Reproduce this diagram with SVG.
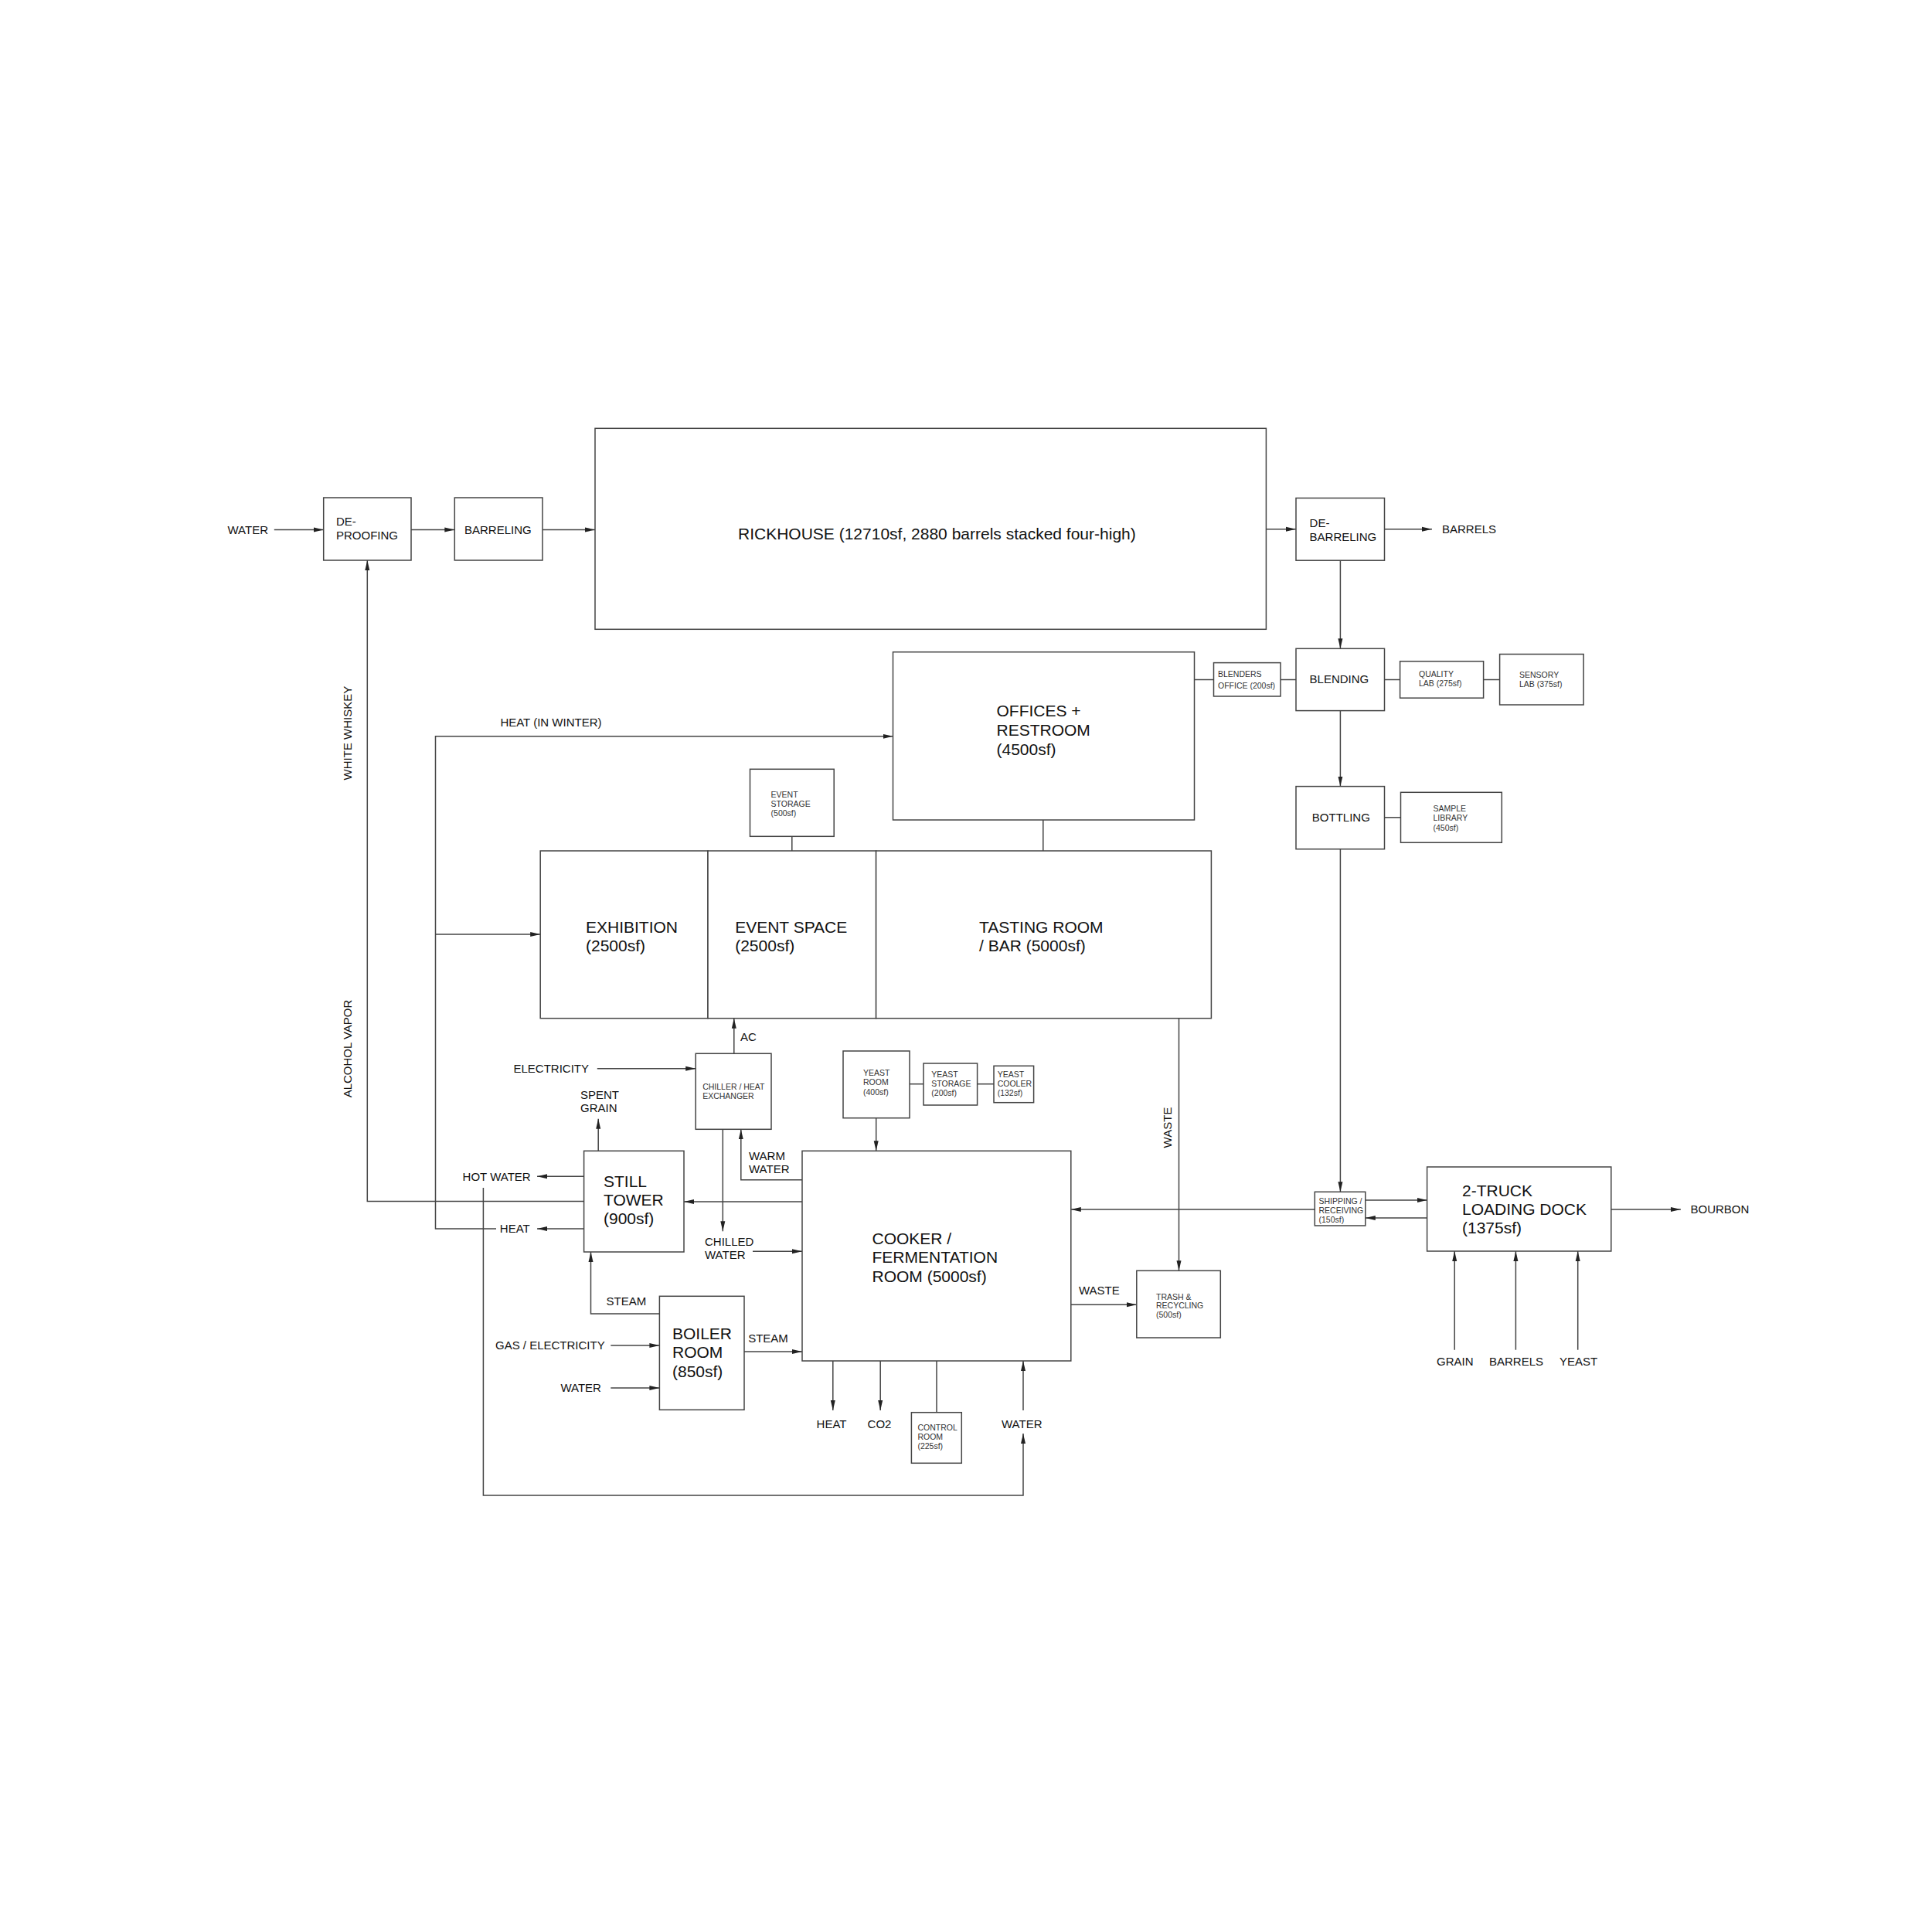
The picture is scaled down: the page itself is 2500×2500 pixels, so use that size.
<svg xmlns="http://www.w3.org/2000/svg" width="2500" height="2500" viewBox="0 0 2500 2500">
<style>
  .box{fill:#fff;stroke:#444;stroke-width:1.5}
  .ln{fill:none;stroke:#444;stroke-width:1.5}
  .a{fill:none;stroke:#444;stroke-width:1.5;marker-end:url(#ah)}
  .t{font-family:"Liberation Sans",Arial,sans-serif;font-size:15px;fill:#111}
  .L{font-family:"Liberation Sans",Arial,sans-serif;font-size:21px;fill:#111}
  .s{font-family:"Liberation Sans",Arial,sans-serif;font-size:10.5px;fill:#333}
</style>
<defs>
  <marker id="ah" markerUnits="userSpaceOnUse" markerWidth="14" markerHeight="8" refX="13" refY="4" orient="auto">
    <path d="M0,1 L13,4 L0,7 z" fill="#222"/>
  </marker>
</defs>
<rect width="2500" height="2500" fill="#fff"/>

<g id="connectors">
  <path class="a" d="M354.8,685.5 H418.7"/>
  <path class="a" d="M532,685.5 H588.3"/>
  <path class="a" d="M702,685.5 H770"/>
  <path class="a" d="M1638.4,684.7 H1677"/>
  <path class="a" d="M1791.5,684.7 H1853"/>
  <path class="a" d="M1734.4,725.2 V839.3"/>
  <path class="a" d="M1734.4,919.6 V1017.6"/>
  <path class="a" d="M1734.4,1098.7 V1542.3"/>
  <path class="ln" d="M1657,879.5 H1677"/>
  <path class="ln" d="M1545.5,879.5 H1570.5"/>
  <path class="ln" d="M1791.5,879.5 H1811.6"/>
  <path class="ln" d="M1919.6,879.5 H1940.6"/>
  <path class="ln" d="M1791.5,1057.8 H1812.5"/>
  <path class="ln" d="M1349.8,1061 V1101"/>
  <path class="ln" d="M1024.8,1082.3 V1101"/>
  <path class="a" d="M642,1590 H563.5 V952.8 H1155.5"/>
  <path class="a" d="M563.5,1209 H699.2"/>
  <path class="a" d="M755.6,1590 H695"/>
  <path class="a" d="M755.6,1522.3 H695"/>
  <path class="a" d="M625.4,1537 V1935 H1324 V1855"/>
  <path class="a" d="M1324,1825 V1761"/>
  <path class="a" d="M755.6,1554.6 H475.3 V725"/>
  <path class="a" d="M1038,1555 H885"/>
  <path class="a" d="M774.2,1489.3 V1447.7"/>
  <path class="a" d="M949.8,1363.3 V1317.7"/>
  <path class="a" d="M772.8,1382.7 H900.2"/>
  <path class="a" d="M1038,1526.7 H958.8 V1461.3"/>
  <path class="a" d="M935.3,1461.3 V1593.3"/>
  <path class="a" d="M974,1619.3 H1038"/>
  <path class="a" d="M853.4,1700 H764.5 V1620"/>
  <path class="a" d="M963,1749 H1038"/>
  <path class="a" d="M790.3,1741 H853.4"/>
  <path class="a" d="M790.3,1796 H853.4"/>
  <path class="a" d="M1133.7,1446.7 V1489.3"/>
  <path class="ln" d="M1177,1402.7 H1195"/>
  <path class="ln" d="M1264.6,1402.7 H1286"/>
  <path class="a" d="M1077.8,1761 V1825"/>
  <path class="a" d="M1139.2,1761 V1825"/>
  <path class="ln" d="M1212,1761 V1827.7"/>
  <path class="a" d="M1525.5,1317.7 V1644.3"/>
  <path class="a" d="M1385.8,1688.3 H1470.8"/>
  <path class="a" d="M1701.3,1565 H1385.8"/>
  <path class="a" d="M1766.8,1553 H1846.6"/>
  <path class="a" d="M1846.6,1576 H1766.8"/>
  <path class="a" d="M2084.8,1565 H2174.9"/>
  <path class="a" d="M1882.2,1746.7 V1619"/>
  <path class="a" d="M1961.4,1746.7 V1619"/>
  <path class="a" d="M2041.7,1746.7 V1619"/>
</g>

<g id="labels">
  <text class="t" x="294.5" y="691">WATER</text>
  <text class="t" x="1866" y="690">BARRELS</text>
  <text class="t" x="647.4" y="940">HEAT (IN WINTER)</text>
  <text class="t" x="958" y="1347">AC</text>
  <text class="t" x="664.5" y="1388">ELECTRICITY</text>
  <text class="t" x="751"><tspan x="751" y="1422">SPENT</tspan><tspan x="751" y="1439">GRAIN</tspan></text>
  <text class="t"><tspan x="969" y="1500.5">WARM</tspan><tspan x="969" y="1518">WATER</tspan></text>
  <text class="t" x="598.6" y="1528">HOT WATER</text>
  <text class="t" x="646.8" y="1595.4">HEAT</text>
  <text class="t"><tspan x="912" y="1612">CHILLED</tspan><tspan x="912" y="1629.4">WATER</tspan></text>
  <text class="t" x="784.5" y="1688.7">STEAM</text>
  <text class="t" x="968.2" y="1737">STEAM</text>
  <text class="t" x="641" y="1746.4">GAS / ELECTRICITY</text>
  <text class="t" x="725.4" y="1801.4">WATER</text>
  <text class="t" x="1056.6" y="1847.7">HEAT</text>
  <text class="t" x="1122.6" y="1847.7">CO2</text>
  <text class="t" x="1296" y="1847.7">WATER</text>
  <text class="t" x="1396" y="1675.4">WASTE</text>
  <text class="t" text-anchor="middle" transform="translate(1516,1459) rotate(-90)">WASTE</text>
  <text class="t" text-anchor="middle" transform="translate(454.5,948.6) rotate(-90)">WHITE WHISKEY</text>
  <text class="t" text-anchor="middle" transform="translate(454.5,1357) rotate(-90)">ALCOHOL VAPOR</text>
  <text class="t" x="2187.5" y="1570.4">BOURBON</text>
  <text class="t" x="1859" y="1767">GRAIN</text>
  <text class="t" x="1927" y="1767">BARRELS</text>
  <text class="t" x="2018" y="1767">YEAST</text>
</g>

<g id="deproofing">
  <rect class="box" x="418.7" y="644" width="113.3" height="81"/>
  <text class="t"><tspan x="435" y="680">DE-</tspan><tspan x="435" y="698">PROOFING</tspan></text>
</g>
<g id="barreling">
  <rect class="box" x="588.3" y="644" width="113.7" height="81"/>
  <text class="t" x="601" y="691">BARRELING</text>
</g>
<g id="rickhouse">
  <rect class="box" x="770" y="554.3" width="868.4" height="260"/>
  <text class="L" x="955" y="697.5">RICKHOUSE (12710sf, 2880 barrels stacked four-high)</text>
</g>
<g id="debarreling">
  <rect class="box" x="1677" y="644.5" width="114.5" height="80.7"/>
  <text class="t"><tspan x="1694.6" y="681.6">DE-</tspan><tspan x="1694.6" y="700">BARRELING</tspan></text>
</g>
<g id="blending">
  <rect class="box" x="1677" y="839.3" width="114.5" height="80.3"/>
  <text class="t" x="1694.6" y="884">BLENDING</text>
</g>
<g id="blenders-office">
  <rect class="box" x="1570.5" y="857.6" width="86.5" height="43.4"/>
  <text class="s"><tspan x="1576" y="876">BLENDERS</tspan><tspan x="1576" y="890.5">OFFICE (200sf)</tspan></text>
</g>
<g id="quality-lab">
  <rect class="box" x="1811.6" y="855.7" width="108" height="47.5"/>
  <text class="s"><tspan x="1836" y="875.6">QUALITY</tspan><tspan x="1836" y="888.2">LAB (275sf)</tspan></text>
</g>
<g id="sensory-lab">
  <rect class="box" x="1940.6" y="846.5" width="108.5" height="65.5"/>
  <text class="s"><tspan x="1966" y="877">SENSORY</tspan><tspan x="1966" y="889">LAB (375sf)</tspan></text>
</g>
<g id="bottling">
  <rect class="box" x="1677" y="1017.6" width="114.5" height="81.1"/>
  <text class="t" x="1697.8" y="1063.2">BOTTLING</text>
</g>
<g id="sample-library">
  <rect class="box" x="1812.5" y="1025.3" width="130.8" height="65"/>
  <text class="s"><tspan x="1854.5" y="1050">SAMPLE</tspan><tspan x="1854.5" y="1062.4">LIBRARY</tspan><tspan x="1854.5" y="1074.6">(450sf)</tspan></text>
</g>
<g id="offices">
  <rect class="box" x="1155.5" y="843.7" width="390" height="217.3"/>
  <text class="L"><tspan x="1289.5" y="926.8">OFFICES +</tspan><tspan x="1289.5" y="951.5">RESTROOM</tspan><tspan x="1289.5" y="976.5">(4500sf)</tspan></text>
</g>
<g id="event-storage">
  <rect class="box" x="970.5" y="995.3" width="108.7" height="87"/>
  <text class="s"><tspan x="997.6" y="1032">EVENT</tspan><tspan x="997.6" y="1044">STORAGE</tspan><tspan x="997.6" y="1056">(500sf)</tspan></text>
</g>
<g id="exhibition">
  <rect class="box" x="699.2" y="1101" width="216.8" height="216.7"/>
  <text class="L"><tspan x="758" y="1207">EXHIBITION</tspan><tspan x="758" y="1231">(2500sf)</tspan></text>
</g>
<g id="event-space">
  <rect class="box" x="916" y="1101" width="217.6" height="216.7"/>
  <text class="L"><tspan x="951.2" y="1207">EVENT SPACE</tspan><tspan x="951.2" y="1231">(2500sf)</tspan></text>
</g>
<g id="tasting-room">
  <rect class="box" x="1133.6" y="1101" width="433.8" height="216.7"/>
  <text class="L"><tspan x="1267" y="1207">TASTING ROOM</tspan><tspan x="1267" y="1231">/ BAR (5000sf)</tspan></text>
</g>
<g id="chiller">
  <rect class="box" x="900.2" y="1363.3" width="97.8" height="98"/>
  <text class="s"><tspan x="909.2" y="1409.8">CHILLER / HEAT</tspan><tspan x="909.2" y="1422">EXCHANGER</tspan></text>
</g>
<g id="yeast-room">
  <rect class="box" x="1091" y="1360" width="86" height="86.7"/>
  <text class="s"><tspan x="1117" y="1392">YEAST</tspan><tspan x="1117" y="1404">ROOM</tspan><tspan x="1117" y="1416.7">(400sf)</tspan></text>
</g>
<g id="yeast-storage">
  <rect class="box" x="1195" y="1376" width="69.6" height="54"/>
  <text class="s"><tspan x="1205.3" y="1393.8">YEAST</tspan><tspan x="1205.3" y="1405.5">STORAGE</tspan><tspan x="1205.3" y="1418">(200sf)</tspan></text>
</g>
<g id="yeast-cooler">
  <rect class="box" x="1286" y="1379.3" width="51.6" height="47.4"/>
  <text class="s"><tspan x="1290.7" y="1393.8">YEAST</tspan><tspan x="1290.7" y="1405.5">COOLER</tspan><tspan x="1290.7" y="1418">(132sf)</tspan></text>
</g>
<g id="cooker">
  <rect class="box" x="1038" y="1489.3" width="347.8" height="271.7"/>
  <text class="L"><tspan x="1128.5" y="1610">COOKER /</tspan><tspan x="1128.5" y="1634">FERMENTATION</tspan><tspan x="1128.5" y="1658.5">ROOM (5000sf)</tspan></text>
</g>
<g id="still-tower">
  <rect class="box" x="755.6" y="1489.3" width="129.4" height="130.7"/>
  <text class="L"><tspan x="781" y="1535.8">STILL</tspan><tspan x="781" y="1559.8">TOWER</tspan><tspan x="781" y="1584">(900sf)</tspan></text>
</g>
<g id="boiler">
  <rect class="box" x="853.4" y="1677.3" width="109.6" height="147"/>
  <text class="L"><tspan x="870" y="1733">BOILER</tspan><tspan x="870" y="1757">ROOM</tspan><tspan x="870" y="1781.5">(850sf)</tspan></text>
</g>
<g id="trash">
  <rect class="box" x="1470.8" y="1644.3" width="108.5" height="86.7"/>
  <text class="s"><tspan x="1496" y="1681.5">TRASH &amp;</tspan><tspan x="1496" y="1693">RECYCLING</tspan><tspan x="1496" y="1705">(500sf)</tspan></text>
</g>
<g id="control-room">
  <rect class="box" x="1179.4" y="1827.7" width="64.9" height="65.6"/>
  <text class="s"><tspan x="1187.4" y="1851">CONTROL</tspan><tspan x="1187.4" y="1862.8">ROOM</tspan><tspan x="1187.4" y="1874.8">(225sf)</tspan></text>
</g>
<g id="shipping">
  <rect class="box" x="1701.3" y="1542.3" width="65.5" height="43.7"/>
  <text class="s"><tspan x="1706.5" y="1558">SHIPPING /</tspan><tspan x="1706.5" y="1569.5">RECEIVING</tspan><tspan x="1706.5" y="1582">(150sf)</tspan></text>
</g>
<g id="loading-dock">
  <rect class="box" x="1846.6" y="1510" width="238.2" height="109"/>
  <text class="L"><tspan x="1892" y="1547.5">2-TRUCK</tspan><tspan x="1892" y="1571.8">LOADING DOCK</tspan><tspan x="1892" y="1596.2">(1375sf)</tspan></text>
</g>
</svg>
